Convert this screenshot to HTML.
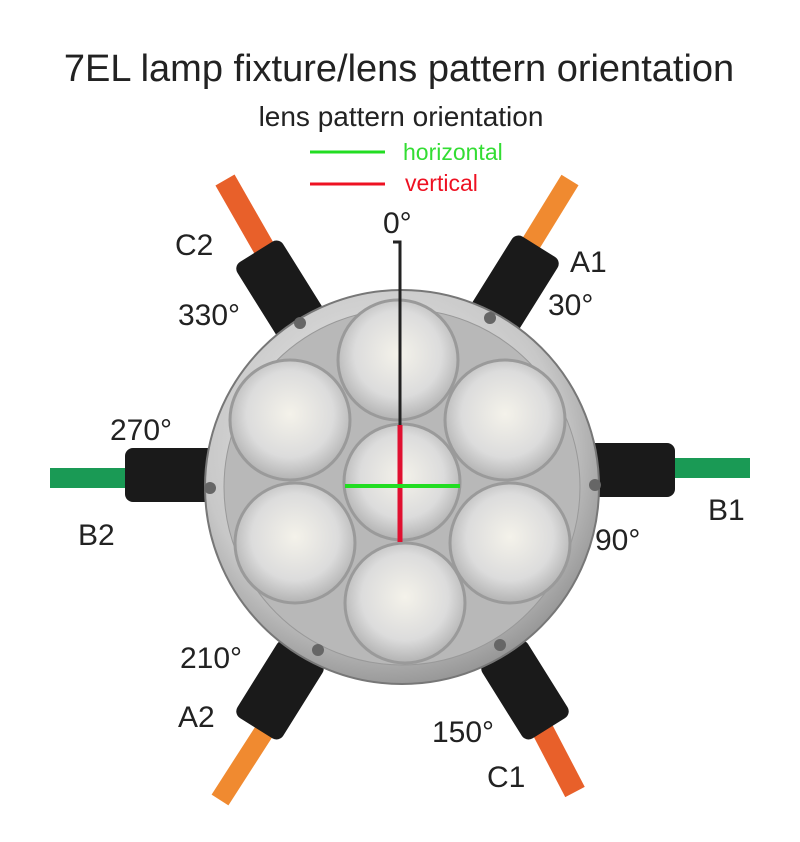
<!DOCTYPE html>
<html><head><meta charset="utf-8"><style>
html,body{margin:0;padding:0;background:#fff;}
svg{display:block}
text{font-family:"Liberation Sans",sans-serif;fill:#222}
</style></head><body>
<svg width="800" height="842" viewBox="0 0 800 842" xmlns="http://www.w3.org/2000/svg">
<defs>
<radialGradient id="silver" cx="45%" cy="40%" r="65%">
<stop offset="0" stop-color="#f2f2f2"/><stop offset="0.7" stop-color="#c8c8c8"/><stop offset="1" stop-color="#8a8a8a"/>
</radialGradient>
<radialGradient id="lens" cx="50%" cy="45%" r="60%">
<stop offset="0" stop-color="#f4f2ea"/><stop offset="0.6" stop-color="#dcdcdc"/><stop offset="1" stop-color="#a8a8a8"/>
</radialGradient>
</defs>
<text x="399" y="81" font-size="38" text-anchor="middle">7EL lamp fixture/lens pattern orientation</text>
<text x="401" y="126" font-size="28" text-anchor="middle">lens pattern orientation</text>
<line x1="310" y1="152" x2="385" y2="152" stroke="#22dd22" stroke-width="3"/>
<text x="403" y="160" font-size="23" style="fill:#33dd33">horizontal</text>
<line x1="310" y1="184" x2="385" y2="184" stroke="#ee1122" stroke-width="3"/>
<text x="405" y="191" font-size="23" style="fill:#ee1122">vertical</text>

<g stroke-linecap="butt">
<line x1="225" y1="180" x2="265" y2="250" stroke="#e8602a" stroke-width="22"/>
<line x1="570" y1="180" x2="530" y2="245" stroke="#f08a30" stroke-width="20"/>
<line x1="750" y1="468" x2="670" y2="468" stroke="#1a9a55" stroke-width="20"/>
<line x1="50" y1="478" x2="130" y2="478" stroke="#1a9a55" stroke-width="20"/>
<line x1="220" y1="800" x2="265" y2="730" stroke="#f08a30" stroke-width="20"/>
<line x1="575" y1="792" x2="540" y2="725" stroke="#e8602a" stroke-width="22"/>
</g>
<g fill="#1a1a1a">
<rect x="-27" y="-45" width="54" height="90" rx="8" transform="translate(280,290) rotate(-32)"/>
<rect x="-27" y="-45" width="54" height="90" rx="8" transform="translate(515,285) rotate(32)"/>
<rect x="-27" y="-45" width="54" height="90" rx="8" transform="translate(630,470) rotate(90)"/>
<rect x="-27" y="-45" width="54" height="90" rx="8" transform="translate(170,475) rotate(90)"/>
<rect x="-27" y="-45" width="54" height="90" rx="8" transform="translate(280,690) rotate(32)"/>
<rect x="-27" y="-45" width="54" height="90" rx="8" transform="translate(525,690) rotate(-32)"/>
</g>
<circle cx="402" cy="487" r="197" fill="url(#silver)" stroke="#777" stroke-width="2"/>
<circle cx="402" cy="487" r="178" fill="#b8b8b8" stroke="#999"/>
<g fill="url(#lens)" stroke="#9a9a9a" stroke-width="3">
<circle cx="398" cy="360" r="60"/>
<circle cx="290" cy="420" r="60"/>
<circle cx="505" cy="420" r="60"/>
<circle cx="295" cy="543" r="60"/>
<circle cx="510" cy="543" r="60"/>
<circle cx="405" cy="603" r="60"/>
<circle cx="402" cy="482" r="58"/>
</g>
<g fill="#666"><circle cx="300" cy="323" r="6"/><circle cx="490" cy="318" r="6"/><circle cx="210" cy="488" r="6"/><circle cx="595" cy="485" r="6"/><circle cx="318" cy="650" r="6"/><circle cx="500" cy="645" r="6"/></g>
<polyline points="393,242 400,242 400,425" fill="none" stroke="#222" stroke-width="3"/>
<line x1="400" y1="425" x2="400" y2="542" stroke="#e01030" stroke-width="5"/>
<line x1="345" y1="486" x2="460" y2="486" stroke="#22dd22" stroke-width="4"/>
<g font-size="30">
<text x="383" y="233">0°</text>
<text x="175" y="255">C2</text>
<text x="570" y="272">A1</text>
<text x="178" y="325">330°</text>
<text x="548" y="315">30°</text>
<text x="110" y="440">270°</text>
<text x="708" y="520">B1</text>
<text x="595" y="550">90°</text>
<text x="78" y="545">B2</text>
<text x="180" y="668">210°</text>
<text x="178" y="727">A2</text>
<text x="432" y="742">150°</text>
<text x="487" y="787">C1</text>
</g>
</svg>
</body></html>
